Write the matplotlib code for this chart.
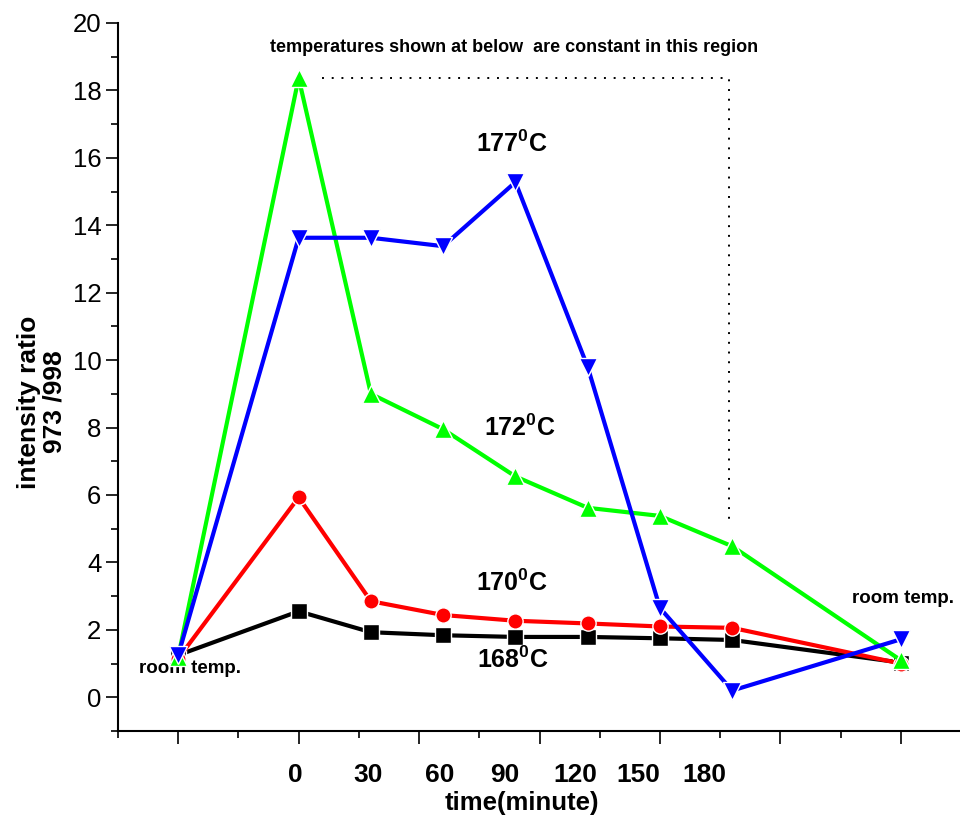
import matplotlib
matplotlib.use("Agg")
import matplotlib.pyplot as plt
from matplotlib.ticker import MultipleLocator, NullFormatter

plt.rcParams['font.family'] = ['Liberation Sans', 'DejaVu Sans']
plt.rcParams['mathtext.fontset'] = 'custom'
plt.rcParams['mathtext.rm'] = 'Liberation Sans'
plt.rcParams['mathtext.bf'] = 'Liberation Sans:bold'

# sampling points on the plot axis: room temp, 0..180 min, room temp
x_axis = [1.0, 2.0, 2.6, 3.2, 3.8, 4.4, 5.0, 5.6, 7.0]
time_labels = ['0', '30', '60', '90', '120', '150', '180']
label_x = [1.97, 2.58, 3.17, 3.71, 4.30, 4.82, 5.37]

# intensity ratio 973/998 per temperature
y_168 = [1.25, 2.55, 1.93, 1.84, 1.79, 1.79, 1.75, 1.70, 1.03]
y_170 = [1.15, 5.93, 2.85, 2.44, 2.27, 2.19, 2.10, 2.06, 1.00]
y_172 = [1.20, 18.37, 9.00, 7.95, 6.55, 5.62, 5.38, 4.48, 1.10]
y_177 = [1.25, 13.63, 13.63, 13.38, 15.28, 9.80, 2.65, 0.20, 1.72]

temps = ['168', '170', '172', '177']

# dotted bracket marking the constant-temperature region
bracket_x = [2.19, 5.57, 5.57]
bracket_y = [18.37, 18.37, 5.25]

fig = plt.figure(figsize=(9.6, 8.24), dpi=100)
ax = fig.add_axes([118 / 960, 93 / 824, 843 / 960, 708 / 824])

ax.plot(bracket_x, bracket_y, color='black', lw=1.4, ls=(0, (1, 4)), zorder=1)

series = [
    (y_168, 'black', 's', 11),
    (y_170, 'red', 'o', 11),
    (y_172, '#00FF00', '^', 13),
    (y_177, 'blue', 'v', 13),
]
for i, (ys, col, mk, ms) in enumerate(series):
    ax.plot(x_axis, ys, color=col, lw=3, marker=mk, ms=ms,
            markerfacecolor=col, markeredgecolor='white', markeredgewidth=1.0,
            zorder=2 + i, clip_on=False)

ax.set_xlim(0.5, 7.5)
ax.set_ylim(-1, 20)

for s in ['top', 'right']:
    ax.spines[s].set_visible(False)
for s in ['left', 'bottom']:
    ax.spines[s].set_linewidth(1.5)

ax.xaxis.set_major_locator(MultipleLocator(1))
ax.xaxis.set_minor_locator(MultipleLocator(0.5))
ax.xaxis.set_major_formatter(NullFormatter())
ax.yaxis.set_major_locator(MultipleLocator(2))
ax.yaxis.set_minor_locator(MultipleLocator(1))
ax.tick_params(which='major', direction='out', length=9, width=1.2)
ax.tick_params(which='minor', direction='out', length=5, width=1.2)
ax.tick_params(axis='y', labelsize=18.5, pad=3)

for lbl, lx in zip(time_labels, label_x):
    ax.annotate(lbl, xy=(lx, 0), xycoords=('data', 'axes fraction'),
                xytext=(0, -44), textcoords='offset pixels',
                ha='center', va='center', fontsize=19, fontweight='bold')

fig.text(522 / 960, 1 - 803 / 824, 'time(minute)', ha='center', va='center',
         fontsize=18.5, fontweight='bold')
fig.text(42 / 960, 1 - 402 / 824, 'intensity ratio\n973 /998', rotation=90,
         ha='center', va='center', multialignment='center',
         fontsize=19, fontweight='bold', linespacing=1.1)

# temperature labels
ax.text(3.77, 16.42, r'$\mathbf{%s^0C}$' % temps[3], ha='center', va='center', fontsize=18)
ax.text(3.84, 8.0, r'$\mathbf{%s^0C}$' % temps[2], ha='center', va='center', fontsize=18)
ax.text(3.77, 3.41, r'$\mathbf{%s^0C}$' % temps[1], ha='center', va='center', fontsize=18)
ax.text(3.78, 1.1, r'$\mathbf{%s^0C}$' % temps[0], ha='center', va='center', fontsize=18,
        zorder=10)

ax.text(1.10, 0.86, 'room temp.', ha='center', va='center', fontsize=13.5, fontweight='bold')
ax.text(7.02, 2.94, 'room temp.', ha='center', va='center', fontsize=13.5, fontweight='bold')
ax.text(3.79, 19.26, 'temperatures shown at below  are constant in this region',
        ha='center', va='center', fontsize=13, fontweight='bold')

fig.savefig('out.png', dpi=100)
